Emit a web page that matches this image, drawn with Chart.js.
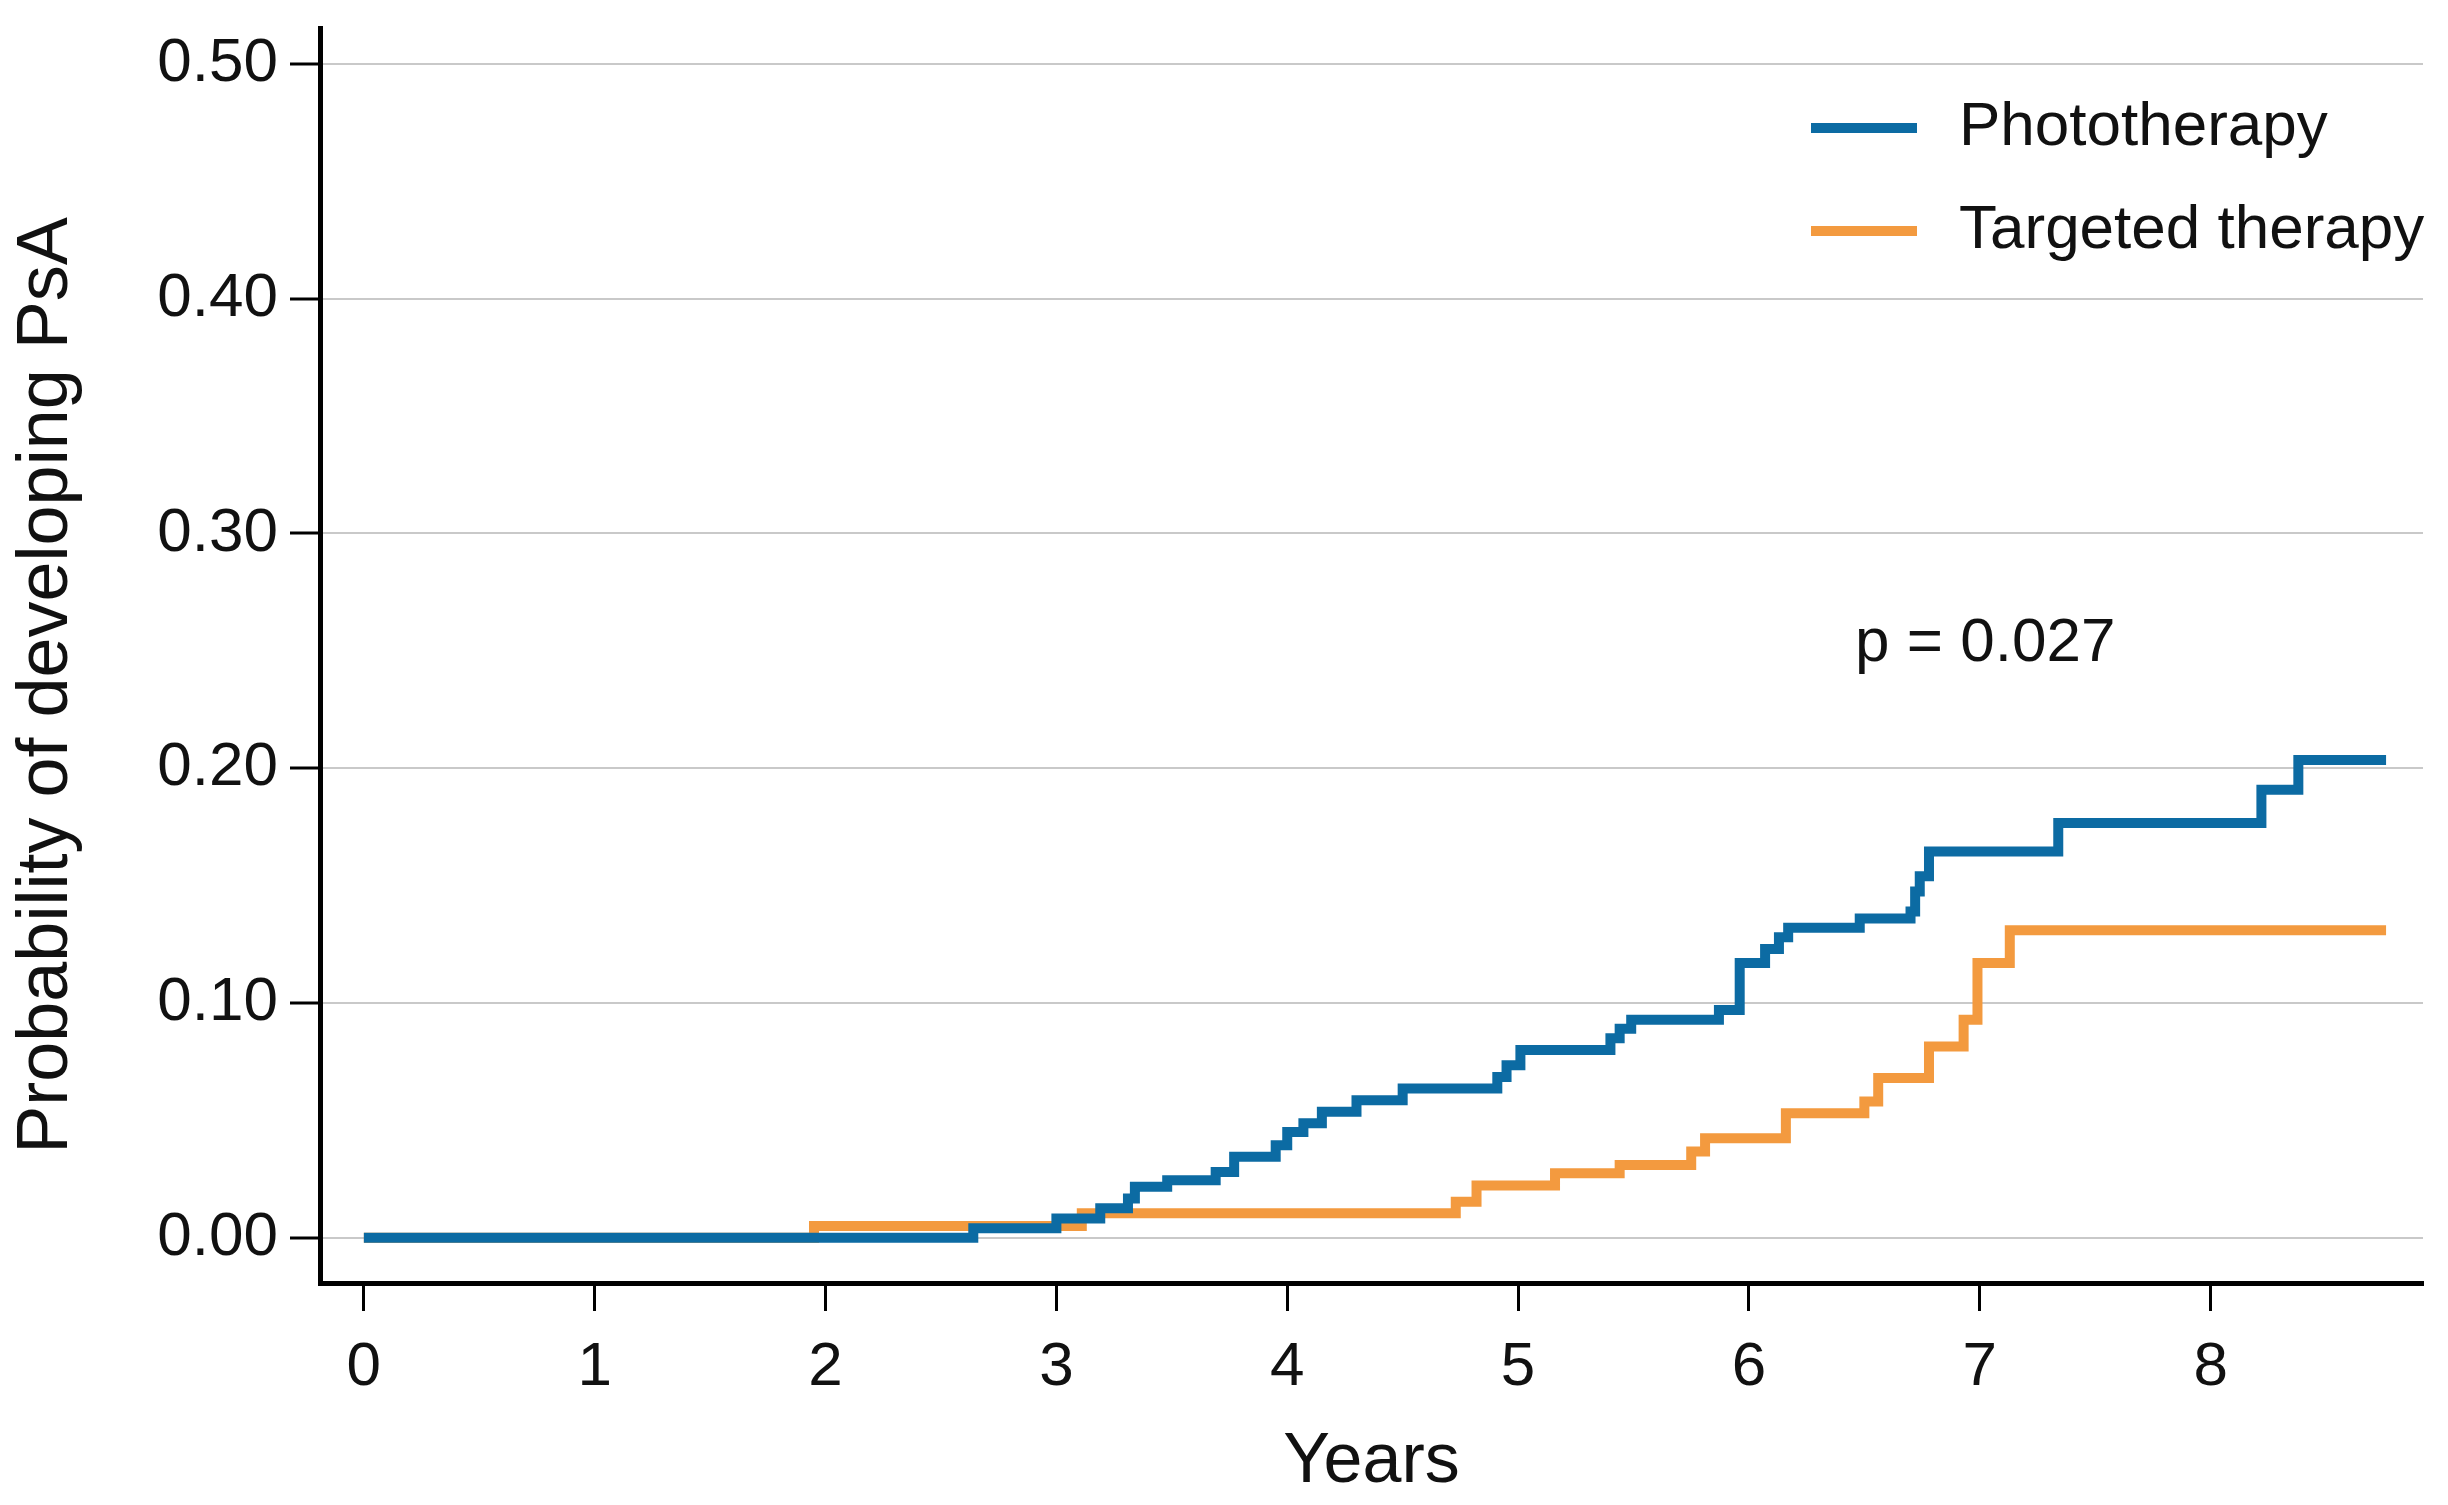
<!DOCTYPE html>
<html>
<head>
<meta charset="utf-8">
<script src="https://cdn.jsdelivr.net/npm/chart.js@4.4.0/dist/chart.umd.min.js"></script>
<style>
  html, body { margin: 0; padding: 0; background: #fff; }
  #wrap { width: 2448px; height: 1505px; }
</style>
</head>
<body>
<div id="wrap"><canvas id="kmChart" width="2448" height="1505"></canvas></div>
<script>
// Cumulative probability of developing PsA
const seriesLabels = ['Phototherapy', 'Targeted therapy'];

const photoYears = [0, 2.64, 3.00, 3.19, 3.31, 3.34, 3.48, 3.69, 3.77, 3.95, 4.00, 4.07, 4.15, 4.30, 4.50,
  4.91, 4.95, 5.01, 5.40, 5.44, 5.49, 5.87, 5.96, 6.07, 6.13, 6.17, 6.48, 6.70, 6.72, 6.74, 6.78,
  7.34, 8.22, 8.38, 8.76];
const photoProb = [0, 0.004, 0.0082, 0.0125, 0.0167, 0.0217, 0.0245, 0.028, 0.0345, 0.0394, 0.045, 0.0487, 0.0536, 0.0586, 0.0635,
  0.0685, 0.0735, 0.080, 0.085, 0.089, 0.0928, 0.097, 0.117, 0.123, 0.128, 0.132, 0.136, 0.139, 0.1475, 0.154, 0.1645,
  0.1766, 0.1908, 0.2035, 0.2035];

const targetYears = [0, 1.95, 3.11, 4.73, 4.82, 5.16, 5.44, 5.75, 5.81, 6.16, 6.50, 6.56, 6.78, 6.93, 6.99, 7.13, 8.76];
const targetProb = [0, 0.005, 0.0104, 0.0153, 0.0222, 0.0275, 0.031, 0.0367, 0.0424, 0.053, 0.058, 0.068, 0.0814, 0.0928, 0.117, 0.131, 0.131];

const xTicks = [0, 1, 2, 3, 4, 5, 6, 7, 8];
const xTickLabels = ['0', '1', '2', '3', '4', '5', '6', '7', '8'];
const yTicks = [0, 0.1, 0.2, 0.3, 0.4, 0.5];
const yTickLabels = ['0.00', '0.10', '0.20', '0.30', '0.40', '0.50'];

const yTitle = 'Probability of developing PsA';
const pValueText = 'p = 0.027';
const pValueAt = [6.46, 0.253];

const FONT = '"Liberation Sans", Arial, sans-serif';
const INK = '#111111';

function toPoints(xs, ys) {
  return xs.map((x, i) => ({ x: x, y: ys[i] }));
}

// legend, p-value and y title drawn on top of the plot
const legendAndNote = {
  id: 'legendAndNote',
  afterDatasetsDraw(chart) {
    const { ctx, chartArea, scales } = chart;
    ctx.save();
    ctx.font = '62px ' + FONT;
    ctx.textBaseline = 'middle';
    ctx.textAlign = 'left';
    chart.data.datasets.forEach((ds, i) => {
      const y = chartArea.top + 100 + i * 103;
      const x0 = chartArea.right - 612;
      ctx.strokeStyle = ds.borderColor;
      ctx.lineWidth = 10;
      ctx.beginPath();
      ctx.moveTo(x0, y);
      ctx.lineTo(x0 + 106, y);
      ctx.stroke();
      ctx.fillStyle = INK;
      ctx.fillText(ds.label, x0 + 148, y);
    });
    ctx.fillText(pValueText, scales.x.getPixelForValue(pValueAt[0]), scales.y.getPixelForValue(pValueAt[1]));

    // y axis title, a little below the axis middle as in the figure
    ctx.translate(47, (chartArea.top + chartArea.bottom) / 2 + 30);
    ctx.rotate(-Math.PI / 2);
    ctx.textAlign = 'center';
    ctx.font = '72px ' + FONT;
    ctx.fillText(yTitle, 0, 0);
    ctx.restore();
  }
};

function renderChart() {
  const ctx = document.getElementById('kmChart').getContext('2d');

  new Chart(ctx, {
    type: 'line',
    data: {
      datasets: [{
        label: seriesLabels[0],
        data: toPoints(photoYears, photoProb),
        borderColor: '#0c6ba3',
        borderWidth: 10,
        stepped: 'before',
        pointRadius: 0,
        borderJoinStyle: 'miter',
        fill: false
      }, {
        label: seriesLabels[1],
        data: toPoints(targetYears, targetProb),
        borderColor: '#f39a3f',
        borderWidth: 10,
        stepped: 'before',
        pointRadius: 0,
        borderJoinStyle: 'miter',
        fill: false
      }]
    },
    options: {
      responsive: false,
      animation: false,
      devicePixelRatio: 1,
      layout: { padding: { top: 28, right: 25, left: 0, bottom: 0 } },
      plugins: {
        legend: { display: false },
        tooltip: { enabled: false }
      },
      scales: {
        x: {
          type: 'linear',
          min: -0.19,
          max: 8.92,
          afterBuildTicks: scale => { scale.ticks = xTicks.map(v => ({ value: v })); },
          afterFit: scale => {
            scale.height = 222;
            scale.paddingLeft = 0; scale.paddingRight = 0;
            scale.paddingTop = 0; scale.paddingBottom = 0;
          },
          ticks: {
            autoSkip: false,
            maxRotation: 0,
            padding: 20,
            color: INK,
            font: { family: FONT, size: 62 },
            callback: (v) => xTickLabels[xTicks.indexOf(v)]
          },
          grid: {
            drawOnChartArea: false,
            drawTicks: true,
            tickLength: 28,
            tickWidth: 3,
            tickColor: '#000'
          },
          border: { display: true, color: '#000', width: 5 },
          title: {
            display: true,
            text: 'Years',
            color: INK,
            font: { family: FONT, size: 70 },
            padding: { top: 0, bottom: 0 }
          }
        },
        y: {
          type: 'linear',
          min: -0.0193,
          max: 0.5153,
          afterBuildTicks: scale => { scale.ticks = yTicks.map(v => ({ value: v })); },
          afterFit: scale => {
            scale.width = 320;
            scale.paddingLeft = 0; scale.paddingRight = 0;
            scale.paddingTop = 0; scale.paddingBottom = 0;
          },
          ticks: {
            autoSkip: false,
            padding: 12,
            color: INK,
            font: { family: FONT, size: 62 },
            callback: (v) => yTickLabels[yTicks.indexOf(v)]
          },
          grid: {
            color: '#c9c9c9',
            lineWidth: 2,
            drawTicks: true,
            tickLength: 30,
            tickWidth: 3,
            tickColor: '#000'
          },
          border: { display: true, color: '#000', width: 5 },
          title: { display: false }
        }
      }
    },
    plugins: [legendAndNote]
  });
}

window.onload = renderChart;
</script>
</body>
</html>
